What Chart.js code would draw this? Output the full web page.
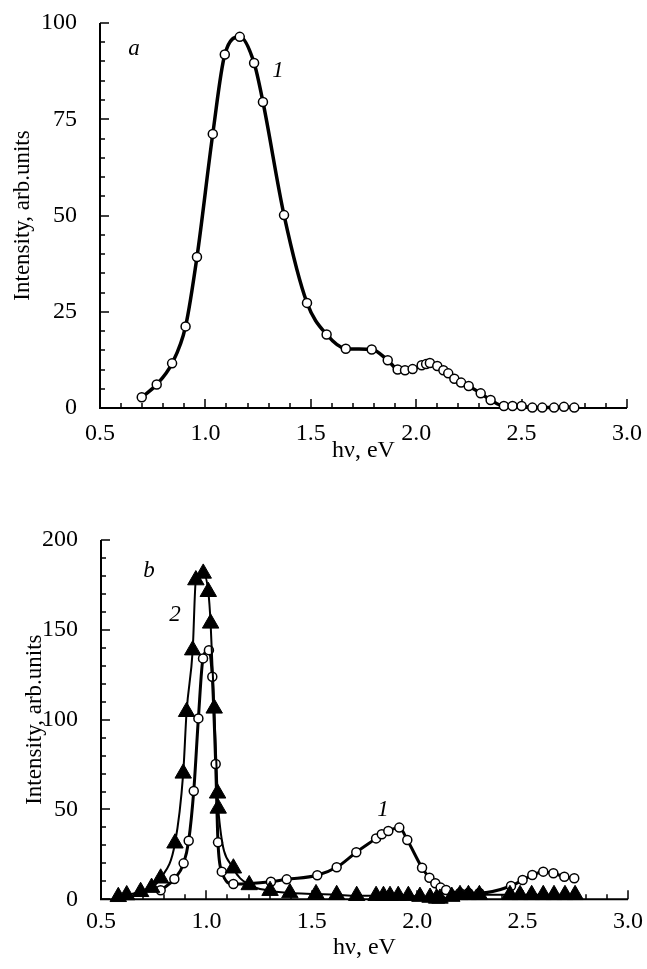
<!DOCTYPE html>
<html>
<head>
<meta charset="utf-8">
<script src="https://cdn.jsdelivr.net/npm/chart.js@4.4.0/dist/chart.umd.min.js"></script>
<style>
  body { margin: 0; background: #fff; }
  .panel { position: absolute; left: 0; width: 647px; }
</style>
</head>
<body>
<div class="panel" style="top:0;height:470px"><canvas id="chartA"></canvas></div>
<div class="panel" style="top:500px;height:469px"><canvas id="chartB"></canvas></div>
<script>
// panel a, curve 1
const aEnergy = [0.698, 0.769, 0.842, 0.906, 0.960, 1.035, 1.092, 1.163, 1.231, 1.273, 1.373, 1.482, 1.575, 1.666,
  1.789, 1.865, 1.912, 1.947, 1.983, 2.026, 2.047, 2.065, 2.100, 2.129, 2.152, 2.181, 2.213, 2.249, 2.306, 2.353,
  2.416, 2.457, 2.500, 2.551, 2.598, 2.654, 2.701, 2.750];
const aIntensity = [2.8, 6.1, 11.6, 21.2, 39.2, 71.2, 91.8, 96.4, 89.6, 79.5, 50.1, 27.3, 19.1, 15.4,
  15.2, 12.4, 10.0, 9.8, 10.1, 11.1, 11.4, 11.7, 10.9, 9.8, 9.0, 7.6, 6.6, 5.7, 3.8, 2.1,
  0.5, 0.5, 0.5, 0.1, 0.1, 0.1, 0.3, 0.1];

// panel b, curve 1 (circles)
const bEnergy1 = [0.783, 0.848, 0.892, 0.916, 0.940, 0.962, 0.984, 1.012, 1.028, 1.044, 1.055, 1.073, 1.128,
  1.306, 1.381, 1.526, 1.618, 1.711, 1.805, 1.832, 1.863, 1.915, 1.953, 2.023, 2.058, 2.086, 2.111, 2.137,
  2.203, 2.243, 2.295, 2.445, 2.500, 2.546, 2.598, 2.646, 2.698, 2.745];
const bIntensity1 = [5, 11.3, 20.0, 32.6, 60.3, 100.7, 134.1, 138.7, 123.9, 75.3, 31.7, 15.4, 8.5,
  9.8, 11.1, 13.4, 17.8, 26.2, 33.9, 36.2, 38.0, 39.9, 33.0, 17.6, 12.0, 8.9, 6.5, 5.2,
  3.5, 3.5, 3.5, 7.4, 10.7, 13.5, 15.4, 14.5, 12.6, 11.7];

// panel b, curve 2 (triangles)
const bEnergy2 = [0.582, 0.622, 0.688, 0.740, 0.783, 0.851, 0.890, 0.906, 0.935, 0.950, 0.985, 1.009, 1.020,
  1.037, 1.053, 1.056, 1.128, 1.203, 1.302, 1.396, 1.520, 1.618, 1.713, 1.805, 1.840, 1.871, 1.910, 1.958,
  2.013, 2.061, 2.092, 2.108, 2.164, 2.203, 2.243, 2.295, 2.440, 2.488, 2.543, 2.598, 2.649, 2.701, 2.749];
const bIntensity2 = [1.4, 2.4, 4.2, 6.5, 11.7, 31.2, 70.1, 104.4, 138.7, 177.7, 181.4, 171.2, 153.6,
  106.3, 59.0, 50.6, 17.3, 8.0, 4.8, 3.5, 3.0, 2.5, 2.0, 2.0, 2.0, 2.0, 2.0, 2.0,
  1.5, 1.0, 0.5, 0.5, 1.5, 2.5, 2.5, 2.5, 2.5, 2.5, 2.5, 2.5, 2.5, 2.5, 2.5];

// in-plot labels: text, energy, intensity
const aLabels = [['a', 0.661, 93.3], ['1', 1.344, 87.6]];
const bLabels = [['b', 0.728, 182.7], ['2', 0.851, 158], ['1', 1.838, 49.8]];

const SERIF = '"Liberation Serif", "Times New Roman", serif';

function toPoints(xs, ys) {
  return xs.map((x, i) => ({ x: x, y: ys[i] }));
}

// axis lines with ticks pointing into the plot
const inwardAxes = {
  id: 'inwardAxes',
  beforeDatasetsDraw(chart, args, opts) {
    const ctx = chart.ctx;
    const area = chart.chartArea;
    const xs = chart.scales.x, ys = chart.scales.y;
    ctx.save();
    ctx.strokeStyle = '#000';
    ctx.lineWidth = 2;
    ctx.beginPath();
    ctx.moveTo(area.left, area.top);
    ctx.lineTo(area.left, area.bottom);
    ctx.lineTo(area.right, area.bottom);
    ctx.stroke();
    ctx.lineWidth = 1.5;
    ctx.beginPath();
    for (let i = 0; i <= Math.round((xs.max - xs.min) / opts.xMinor); i++) {
      const v = xs.min + i * opts.xMinor;
      const px = Math.round(xs.getPixelForValue(v));
      const len = i % opts.xEvery === 0 ? 9 : 5;
      ctx.moveTo(px, area.bottom);
      ctx.lineTo(px, area.bottom - len);
    }
    for (let i = 0; i <= Math.round((ys.max - ys.min) / opts.yMinor); i++) {
      const v = ys.min + i * opts.yMinor;
      const py = Math.round(ys.getPixelForValue(v));
      const len = i % opts.yEvery === 0 ? 9 : 5;
      ctx.moveTo(area.left, py);
      ctx.lineTo(area.left + len, py);
    }
    ctx.stroke();
    ctx.restore();
  },
  afterDatasetsDraw(chart, args, opts) {
    const ctx = chart.ctx;
    ctx.save();
    ctx.fillStyle = '#000';
    ctx.font = 'italic 23px ' + SERIF;
    ctx.textAlign = 'center';
    ctx.textBaseline = 'middle';
    (opts.labels || []).forEach(l => {
      ctx.fillText(l[0], chart.scales.x.getPixelForValue(l[1]), chart.scales.y.getPixelForValue(l[2]));
    });
    ctx.restore();
  }
};

function makeOptions(cfg) {
  return {
    responsive: true,
    maintainAspectRatio: false,
    animation: false,
    layout: { padding: cfg.padding },
    plugins: {
      legend: { display: false },
      tooltip: { enabled: false },
      inwardAxes: { xMinor: 0.1, xEvery: 5, yMinor: cfg.yMinor, yEvery: cfg.yEvery, labels: cfg.labels }
    },
    scales: {
      x: {
        type: 'linear',
        min: 0.5,
        max: 3.0,
        grid: { display: false },
        border: { display: false },
        ticks: {
          stepSize: 0.5,
          padding: cfg.xPad,
          color: '#000',
          font: { family: SERIF, size: 24 },
          callback: v => v.toFixed(1)
        },
        title: {
          display: true,
          text: 'hν, eV',
          color: '#000',
          font: { family: SERIF, size: 24 },
          padding: { top: 0, bottom: 3 }
        },
        afterFit: s => { s.height = cfg.xHeight; s.paddingLeft = 0; s.paddingRight = 0; }
      },
      y: {
        min: 0,
        max: cfg.yMax,
        grid: { display: false },
        border: { display: false },
        ticks: {
          stepSize: cfg.yStep,
          padding: 15,
          color: '#000',
          font: { family: SERIF, size: 24 }
        },
        title: {
          display: true,
          text: 'Intensity, arb.units',
          color: '#000',
          font: { family: SERIF, size: 23 },
          padding: { top: cfg.titleLeft, bottom: 0 }
        },
        afterFit: s => { s.width = cfg.yWidth; s.paddingTop = 0; s.paddingBottom = 0; }
      }
    }
  };
}

new Chart(document.getElementById('chartA'), {
  type: 'line',
  data: {
    datasets: [{
      data: toPoints(aEnergy, aIntensity),
      borderColor: '#000',
      borderWidth: 3.5,
      cubicInterpolationMode: 'monotone',
      pointStyle: 'circle',
      pointRadius: 4.5,
      pointBorderWidth: 1.5,
      pointBorderColor: '#000',
      pointBackgroundColor: '#fff',
      clip: false
    }]
  },
  options: makeOptions({
    padding: { left: 0, right: 20, top: 23, bottom: 2 },
    yMax: 100, yStep: 25, yMinor: 5, yEvery: 5,
    yWidth: 100, titleLeft: 9, labels: aLabels,
    xPad: 3, xHeight: 60
  }),
  plugins: [inwardAxes]
});

new Chart(document.getElementById('chartB'), {
  type: 'line',
  data: {
    datasets: [{
      data: toPoints(bEnergy2, bIntensity2),
      borderColor: '#000',
      borderWidth: 2,
      cubicInterpolationMode: 'monotone',
      pointStyle: 'triangle',
      pointRadius: 9.5,
      pointBorderWidth: 1,
      pointBorderColor: '#000',
      pointBackgroundColor: '#000',
      clip: false
    }, {
      data: toPoints(bEnergy1, bIntensity1),
      borderColor: '#000',
      borderWidth: 3,
      cubicInterpolationMode: 'monotone',
      pointStyle: 'circle',
      pointRadius: 4.5,
      pointBorderWidth: 1.5,
      pointBorderColor: '#000',
      pointBackgroundColor: '#fff',
      clip: false
    }]
  },
  options: makeOptions({
    padding: { left: 0, right: 19, top: 40, bottom: 3.7 },
    yMax: 200, yStep: 50, yMinor: 10, yEvery: 5,
    yWidth: 101, titleLeft: 21, labels: bLabels,
    xPad: 0, xHeight: 66
  }),
  plugins: [inwardAxes]
});
</script>
</body>
</html>
